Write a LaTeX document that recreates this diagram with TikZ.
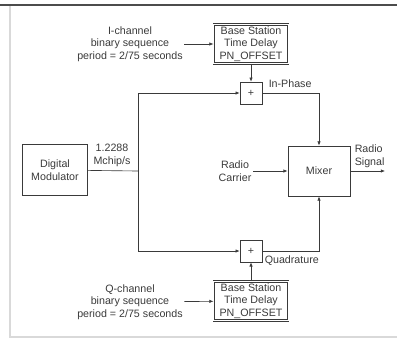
\documentclass[tikz,border=0pt]{standalone}
\usepackage{fontspec}
\setmainfont{Liberation Sans}
\usetikzlibrary{arrows.meta,calc,positioning}
\definecolor{InkGray}{HTML}{3A3A3A}

\begin{document}
\begin{tikzpicture}[x=.25mm,y=-.25mm,line width=.5pt,font=\fontsize{7.6}{9}\selectfont,
 every node/.style={inner sep=1pt,text=InkGray},draw=InkGray,>={Latex[length=3pt,width=2.4pt]},
 txt/.style={align=center},
 blk/.style={draw=InkGray,align=center},
 dly/.style={draw=InkGray,double,double distance=.9pt,line width=.4pt,align=center,minimum width=18.6mm,minimum height=9.8mm},
 sum/.style={draw=InkGray,line width=.4pt,minimum width=5.5mm,minimum height=5.5mm,inner sep=0pt}]
\useasboundingbox (0,0) rectangle (397,340);
% page frame
\draw[black!70,line width=1.6pt] (0,5) -- (397,5);
\draw[black!15,line width=.8pt] (10,6) -- (10,337) -- (397,337);
% I branch
\node[txt] (itext) at (130,44) {I-channel\\binary sequence\\period = 2/75 seconds};
\node[dly] (itd) at (251,44) {Base Station\\Time Delay\\PN\_OFFSET};
\node[sum] (ip) at (251,93) {+};
\node[txt,anchor=west] (iph) at (267,84) {In-Phase};
% middle row
\node[blk,minimum width=16.2mm,minimum height=12.7mm] (mod) at (55,170) {Digital\\Modulator};
\node[txt,anchor=south] (rate) at (112,168) {1.2288\\Mchip/s};
\coordinate (split) at (138,171);
\node[txt] (car) at (235,171) {Radio\\Carrier};
\node[blk,minimum width=15.5mm,minimum height=12.5mm] (mix) at (319,171) {Mixer};
\node[txt,anchor=south west,align=left] (sig) at (353,169) {Radio\\Signal};
\coordinate (out) at (385,171);
% Q branch
\node[sum] (qp) at (251,251) {+};
\node[txt,anchor=west] (quad) at (263,261) {Quadrature};
\node[dly] (qtd) at (251,301) {Base Station\\Time Delay\\PN\_OFFSET};
\node[txt] (qtext) at (130,302) {Q-channel\\binary sequence\\period = 2/75 seconds};
% connectors
\begin{scope}[InkGray,line width=.45pt]
 \draw[->] (itext) -- (itd);
 \draw[->] (itd) -- (ip);
 \draw (mod) -- (split);
 \draw[->] (split) |- (ip);
 \draw[->] (split) |- (qp);
 \draw[->] (ip) -| (mix);
 \draw[->] (qp) -| (mix);
 \draw[->] (car) -- (mix);
 \draw[->] (mix) -- (out);
 \draw[->] (qtd) -- (qp);
 \draw[->] (qtext) -- (qtd);
\end{scope}
\end{tikzpicture}
\end{document}
